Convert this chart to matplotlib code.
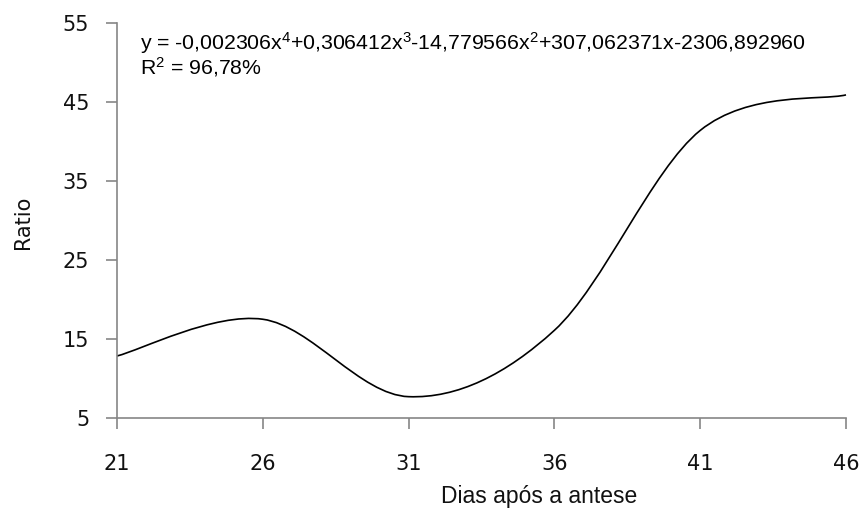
import numpy as np
import matplotlib
matplotlib.use('Agg')
import matplotlib.pyplot as plt
from matplotlib.path import Path
from matplotlib.patches import PathPatch

plt.rcParams['mathtext.fontset'] = 'custom'
plt.rcParams['mathtext.rm'] = 'Liberation Sans'
plt.rcParams['mathtext.it'] = 'Liberation Sans'

# Dias após a antese vs ratio
dias = [21, 26, 31, 36, 41, 46]
ratio = [12.85, 17.5, 7.7, 16.1, 41.4, 45.9]
x_ticks = [21, 26, 31, 36, 41, 46]
y_ticks = [5, 15, 25, 35, 45, 55]

equation = ('y = -0,002306x$^{4}$+0,306412x$^{3}$-14,779566x$^{2}$'
            '+307,062371x-2306,892960')
r2_text = 'R$^{2}$ = 96,78%'

GRAY = '#868686'

fig = plt.figure(figsize=(8.64, 5.13), dpi=100)
ax = fig.add_axes([117/864, 1 - 418/513, (846 - 117)/864, (418 - 23)/513])

# smoothed line like the spreadsheet one: cubic Bezier through the points
x = np.array(dias, dtype=float)
y = np.array(ratio, dtype=float)
xp = np.concatenate([[x[0]], x, [x[-1]]])
yp = np.concatenate([[y[0]], y, [y[-1]]])
verts = [(x[0], y[0])]
codes = [Path.MOVETO]
for i in range(len(x) - 1):
    c1 = (x[i] + (xp[i + 2] - xp[i]) / 6, y[i] + (yp[i + 2] - yp[i]) / 6)
    c2 = (x[i + 1] - (xp[i + 3] - xp[i + 1]) / 6,
          y[i + 1] - (yp[i + 3] - yp[i + 1]) / 6)
    verts += [c1, c2, (x[i + 1], y[i + 1])]
    codes += [Path.CURVE4] * 3
ax.add_patch(PathPatch(Path(verts, codes), facecolor='none',
                       edgecolor='black', lw=1.2, clip_on=False))

ax.set_xlim(21, 46)
ax.set_ylim(5, 55)
ax.set_xticks(x_ticks)
ax.set_yticks(y_ticks)
ax.tick_params(axis='x', direction='out', length=8, width=1.2, color=GRAY,
               pad=18, labelsize=15, labelcolor='#111111')
ax.tick_params(axis='y', direction='out', length=8, width=1.2, color=GRAY,
               pad=12, labelsize=15, labelcolor='#111111')
for side in ['top', 'right']:
    ax.spines[side].set_visible(False)
for side in ['left', 'bottom']:
    ax.spines[side].set_color(GRAY)
    ax.spines[side].set_linewidth(1.2)

fig.text(23/864, 1 - 222/513, 'Ratio', rotation=90, ha='center', va='center',
         fontsize=15, color='#111111')
fig.text(539/864, 1 - 497/513, 'Dias após a antese', ha='center', va='center',
         fontsize=16.5, family='Liberation Sans', color='#111111')
fig.text(140/864, 1 - 55/513, equation + '\n' + r2_text, ha='left',
         va='center', linespacing=0.95, fontsize=15.3,
         family='Liberation Sans', color='black')

fig.savefig('out.png', dpi=100)
